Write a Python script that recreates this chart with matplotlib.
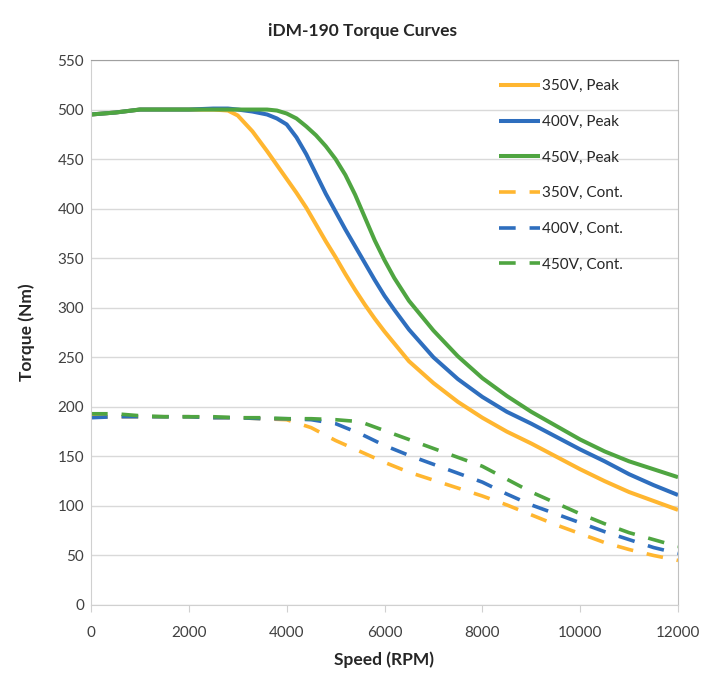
import matplotlib
matplotlib.use('Agg')
import matplotlib.pyplot as plt

# peak torque curves
rpm_peak = [0, 500, 1000, 1500, 2000, 2500, 2800, 3000, 3300, 3600, 3800, 4000, 4200, 4400,
            4600, 4800, 5000, 5200, 5400, 5600, 5800, 6000, 6200, 6500, 7000, 7500, 8000,
            8500, 9000, 9500, 10000, 10500, 11000, 11500, 12000]
peak_350 = [495, 497, 500, 500, 500, 500, 499, 494, 478, 458, 444, 430, 416, 401,
            384, 367, 351, 334, 318, 303, 289, 276, 264, 246, 224, 205, 189, 175,
            163, 150, 137, 125, 114, 105, 96]
peak_400 = [495, 497, 500, 500, 500, 501, 501, 500, 498, 495, 491, 485, 472, 455,
            435, 415, 397, 379, 362, 345, 328, 312, 298, 278, 250, 228, 210, 195,
            183, 170, 157, 145, 132, 121, 111]
peak_450 = [495, 497, 500, 500, 500, 500, 500, 500, 500, 500, 499, 496, 491, 483,
            474, 463, 450, 434, 414, 391, 368, 348, 330, 307, 277, 251, 229, 211,
            195, 181, 167, 155, 145, 137, 129]

# continuous torque curves
rpm_cont = [0, 500, 1000, 1500, 2000, 2500, 3000, 3500, 4000, 4500, 5000, 5500, 6000,
            6500, 7000, 7500, 8000, 8500, 9000, 9500, 10000, 10500, 11000, 11500, 12000]
cont_350 = [190, 190, 190, 190, 190, 189, 189, 188, 187, 179, 166, 155, 144,
            134, 126, 118, 110, 101, 91, 81, 72, 63, 56, 50, 45]
cont_400 = [189, 190, 190, 190, 190, 189, 189, 188, 188, 187, 183, 173, 161,
            151, 142, 133, 124, 112, 101, 92, 83, 74, 66, 58, 52]
cont_450 = [193, 193, 191, 190, 190, 190, 189, 189, 188, 188, 187, 185, 176,
            167, 158, 149, 140, 127, 114, 103, 92, 82, 73, 66, 59]

c_orange = '#FFB630'
c_blue = '#2E6EBE'
c_green = '#4FA541'

matplotlib.rcParams['font.family'] = ['Lato', 'DejaVu Sans']
matplotlib.rcParams['lines.scale_dashes'] = False

fig = plt.figure(figsize=(7.04, 6.79), dpi=100)
ax = fig.add_axes([91/704, 1 - 605/679, (678-91)/704, (605-60)/679])

ax.plot(rpm_peak, peak_350, c=c_orange, lw=2.9, label='350V, Peak', solid_capstyle='butt')
ax.plot(rpm_peak, peak_400, c=c_blue, lw=2.9, label='400V, Peak', solid_capstyle='butt')
ax.plot(rpm_peak, peak_450, c=c_green, lw=2.9, label='450V, Peak', solid_capstyle='butt')
ax.plot(rpm_cont, cont_350, c=c_orange, lw=2.6, dashes=(12, 10), label='350V, Cont.')
ax.plot(rpm_cont, cont_400, c=c_blue, lw=2.6, dashes=(12, 10), label='400V, Cont.')
ax.plot(rpm_cont, cont_450, c=c_green, lw=2.6, dashes=(12, 10), label='450V, Cont.')

ax.set_xlim(0, 12000)
ax.set_ylim(0, 550)
ax.set_xticks(range(0, 12001, 2000))
ax.set_yticks(range(0, 551, 50))
ax.grid(axis='y', color='#D9D9D9', lw=1)
ax.set_axisbelow(True)

ax.tick_params(axis='y', length=0, labelsize=11, labelcolor='#404040', pad=5)
ax.tick_params(axis='x', length=5, color='#D0D0D0', labelsize=11, labelcolor='#404040', pad=10)

ax.spines['left'].set_color('#D0D0D0')
ax.spines['bottom'].set_color('#D0D0D0')
ax.spines['top'].set_color('#A0A0A0')
ax.spines['right'].set_color('#C0C0C0')

ax.set_xlabel('Speed (RPM)', fontsize=12.5, fontweight='bold', color='#262626', labelpad=8)
ax.set_ylabel('Torque (Nm)', fontsize=12.5, fontweight='bold', color='#262626', labelpad=16)
fig.text(362/704, 1 - 31/679, 'iDM-190 Torque Curves', ha='center', va='center',
         fontsize=12.5, fontweight='bold', color='#262626')

ax.legend(loc='upper left', bbox_to_anchor=(0.685, 0.976), frameon=False, fontsize=11,
          handlelength=2.7, handletextpad=0.1, labelspacing=1.42, borderaxespad=0.0,
          labelcolor='#262626')

plt.savefig('out.png', dpi=100)
